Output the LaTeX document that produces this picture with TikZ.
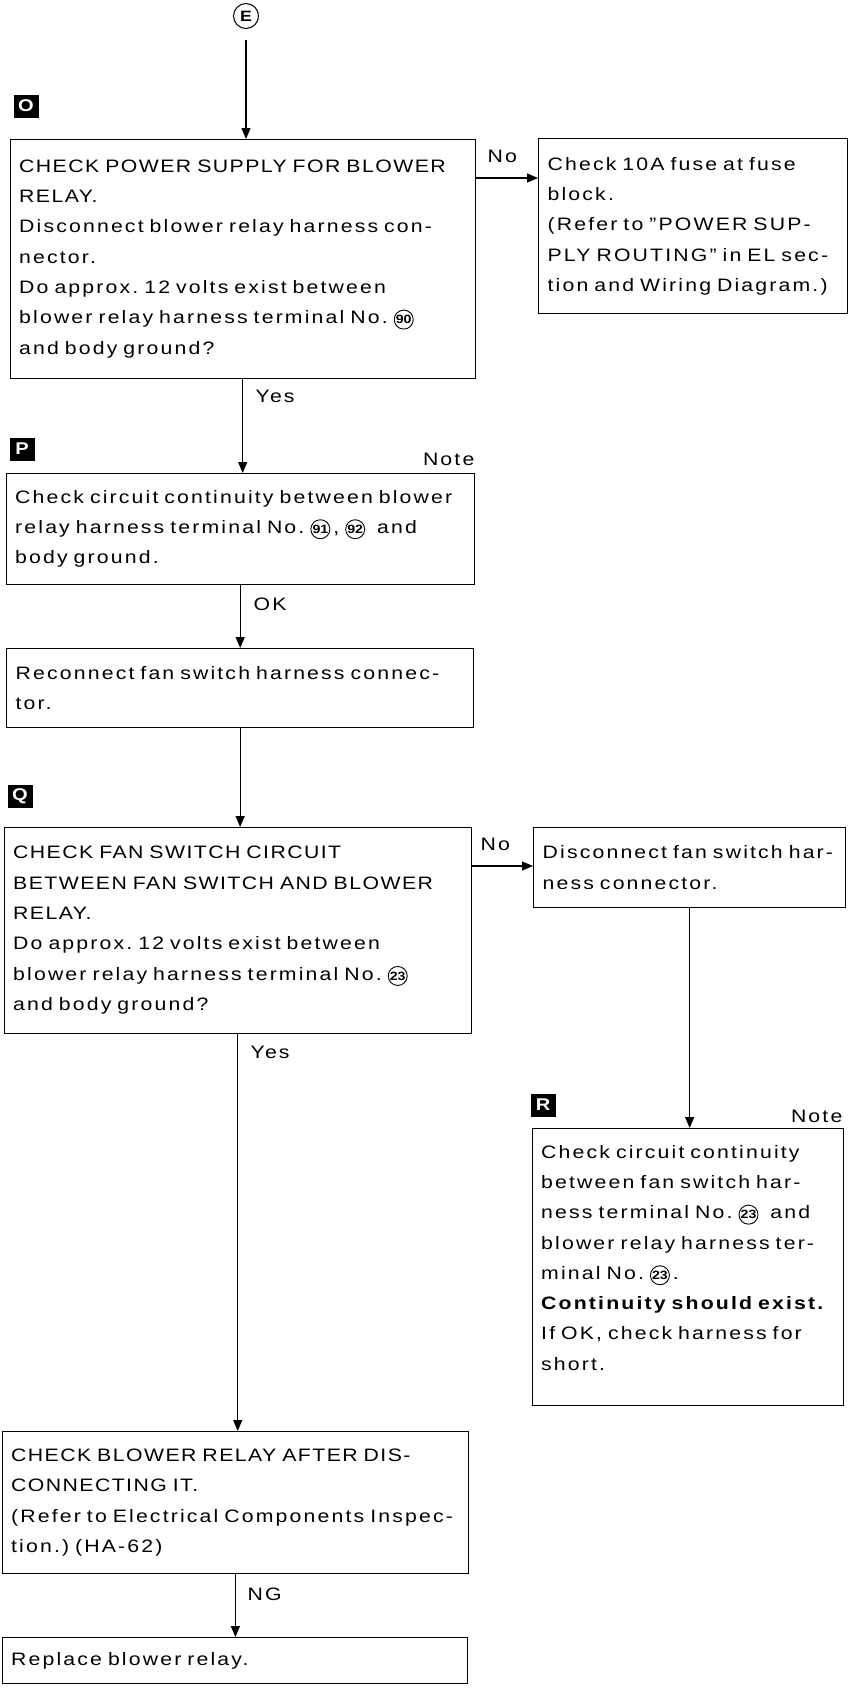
\documentclass[tikz,border=0pt]{standalone}
\usepackage{fontspec}
\setmainfont{Liberation Sans}[LetterSpace=12, FakeStretch=1.18]
\usetikzlibrary{arrows.meta}

\tikzset{
  termnum/.style = {draw, circle, line width=0.9pt, inner sep=0pt, minimum size=19pt,
    font=\fontsize{12}{12}\selectfont\bfseries\addfontfeature{LetterSpace=0}}
}
\newcommand{\termno}[1]{\tikz[baseline=(tn.base)] \node[termnum] (tn) {#1};}
\newcommand{\boxfont}{\fontsize{18}{30.3}\selectfont\frenchspacing\spaceskip 9pt plus 2pt minus 1pt\relax}
\newcommand{\capline}[1]{{\addfontfeature{LetterSpace=8}#1}}

\begin{document}
\begin{tikzpicture}[x=1pt, y=-1pt, line width=1.3pt,
  box/.style = {draw, anchor=north west, align=left, inner xsep=9pt, inner ysep=0pt, font=\boxfont},
  tag/.style = {fill=black, text=white, minimum width=25pt, minimum height=23pt, inner sep=0pt,
    font=\fontsize{17}{17}\selectfont\bfseries\addfontfeature{LetterSpace=0}},
  lbl/.style = {anchor=base west, inner sep=0pt, font=\boxfont},
  arr/.style = {-{Triangle[length=11pt, width=9pt]}}]
  \useasboundingbox (0,0) rectangle (849,1690);

  \node[draw, circle, minimum size=25pt, inner sep=0pt, line width=1pt,
    font=\fontsize{15}{15}\selectfont\bfseries\addfontfeature{LetterSpace=0}] (entry) at (246,16) {E};

  % step O
  \node[tag] (tago) at (26,106) {O};
  \node[box, text width=447pt, minimum height=239pt] (powercheck) at (10,139)
    {\capline{CHECK~POWER~SUPPLY~FOR~BLOWER}\\ \capline{RELAY.}\\ Disconnect~blower~relay~harness~con-\\ nector.\\
     Do~approx.~12~volts~exist~between\\ blower~relay~harness~terminal~No.~\termno{90}\\ and body ground?};
  \node[box, text width=291pt, minimum height=175pt] (fusecheck) at (538,138)
    {Check~10A~fuse~at~fuse\\ block.\\ (Refer~to~''POWER~SUP-\\ PLY~ROUTING''~in~EL~sec-\\ tion~and~Wiring~Diagram.)};
  \node[lbl] (no1) at (487,162) {No};
  \node[lbl] (yes1) at (255,402) {Yes};

  % step P
  \node[tag] (tagp) at (22,449) {P};
  \node[lbl, anchor=base east] (note1) at (475,465) {Note};
  \node[box, text width=450pt, minimum height=111pt] (groundcheck) at (6,473)
    {Check~circuit~continuity~between~blower\\ relay~harness~terminal~No.~\termno{91}\,,~\termno{92}~ and\\ body ground.};
  \node[lbl] (ok) at (253,610) {OK};
  \node[box, text width=449pt, minimum height=79pt] (reconnect) at (6,648)
    {Reconnect~fan~switch~harness~connec-\\ tor.};

  % step Q
  \node[tag] (tagq) at (20,796) {Q};
  \node[box, text width=449pt, minimum height=206pt] (fancheck) at (4,827)
    {\capline{CHECK~FAN~SWITCH~CIRCUIT}\\ \capline{BETWEEN~FAN~SWITCH~AND~BLOWER}\\ \capline{RELAY.}\\
     Do~approx.~12~volts~exist~between\\ blower~relay~harness~terminal~No.~\termno{23}\\ and body ground?};
  \node[box, text width=294pt, minimum height=80pt] (disconnect) at (533,827)
    {Disconnect~fan~switch~har-\\ ness connector.};
  \node[lbl] (no2) at (480,850) {No};
  \node[lbl] (yes2) at (250,1058) {Yes};

  % step R
  \node[tag] (tagr) at (543,1105) {R};
  \node[lbl, anchor=base east] (note2) at (843,1122) {Note};
  \node[box, text width=293pt, minimum height=277pt] (circuitcheck) at (532,1128)
    {Check~circuit~continuity\\ between~fan~switch~har-\\ ness~terminal~No.~\termno{23}~ and\\
     blower~relay~harness~ter-\\ minal~No.~\termno{23}\,.\\ \textbf{Continuity~should~exist.}\\
     If~OK,~check~harness~for\\ short.\rule[-18pt]{0pt}{0pt}};

  \node[box, text width=448.5pt, minimum height=142pt] (relaycheck) at (1.5,1431)
    {\capline{CHECK~BLOWER~RELAY~AFTER~DIS-}\\ \capline{CONNECTING~IT.}\\ (Refer~to~Electrical~Components~Inspec-\\ tion.)~(HA-62)};
  \node[lbl] (ng) at (247,1600) {NG};
  \node[box, text width=447.5pt, minimum height=46pt] (replace) at (1.5,1637)
    {Replace blower relay.};

  % connectors
  \draw[arr, shorten <=11pt] (entry) -- (entry |- powercheck.north);
  \draw[arr] ([yshift=-39pt]powercheck.north east) -- ([yshift=-39pt]powercheck.north east -| fusecheck.west);
  \draw[arr] (powercheck.south) -- (powercheck.south |- groundcheck.north);
  \draw[arr] (groundcheck.south) -- (groundcheck.south |- reconnect.north);
  \draw[arr] (reconnect.south) -- (reconnect.south |- fancheck.north);
  \draw[arr] ([yshift=-39pt]fancheck.north east) -- ([yshift=-39pt]fancheck.north east -| disconnect.west);
  \draw[arr] (disconnect.south) -- (disconnect.south |- circuitcheck.north);
  \draw[arr] (fancheck.south) -- (fancheck.south |- relaycheck.north);
  \draw[arr] (relaycheck.south) -- (relaycheck.south |- replace.north);
\end{tikzpicture}
\end{document}
